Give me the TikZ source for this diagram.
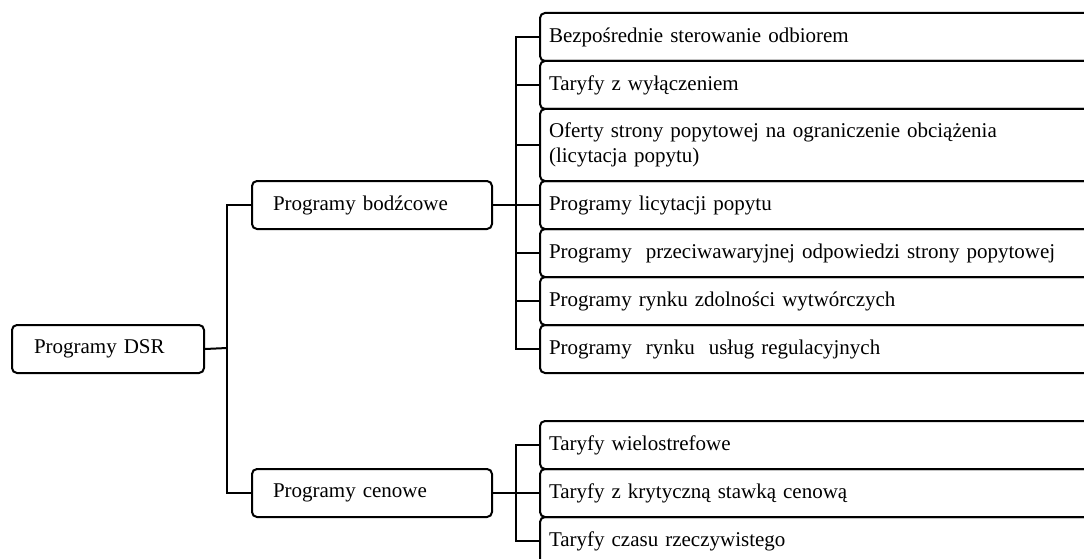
\documentclass[tikz,border=0pt]{standalone}
\usepackage{fontspec}
\setmainfont{Liberation Serif}
\begin{document}
\begin{tikzpicture}[x=1pt,y=-1pt,
  box/.style={draw, line width=2pt, rounded corners=5pt, anchor=north west,
    align=left, font=\fontsize{21}{25}\selectfont, inner ysep=0pt},
  leftbox/.style={box, text width=148pt, inner xsep=22pt, minimum height=48pt},
  midbox/.style={box, text width=198pt, inner xsep=21pt, minimum height=48pt},
  rbox/.style={box, text width=542pt, inner xsep=9pt, minimum height=48pt},
  conn/.style={line width=2pt, line join=miter}]
\useasboundingbox (0,0) rectangle (1084,559);
\clip (0,0) rectangle (1084,559);
\node[leftbox] (dsr) at (11,324) {Programy DSR};
\node[midbox] (bod) at (251,180) {Programy bodźcowe};
\node[midbox] (cen) at (251,468) {Programy cenowe};
\node[rbox] (r1) at (539,12) {Bezpośrednie sterowanie odbiorem};
\node[rbox] (r2) at (539,60) {Taryfy z wyłączeniem};
\node[rbox, minimum height=72pt] (r3) at (539,108) {Oferty strony popytowej na ograniczenie obciążenia\\(licytacja popytu)};
\node[rbox] (r4) at (539,180) {Programy licytacji popytu};
\node[rbox] (r5) at (539,228) {Programy\ \ przeciwawaryjnej odpowiedzi strony popytowej};
\node[rbox] (r6) at (539,276) {Programy rynku zdolności wytwórczych};
\node[rbox] (r7) at (539,324) {Programy\ \ rynku\ \ usług regulacyjnych};
\node[rbox] (c1) at (539,420) {Taryfy wielostrefowe};
\node[rbox] (c2) at (539,468) {Taryfy z krytyczną stawką cenową};
\node[rbox] (c3) at (539,516) {Taryfy czasu rzeczywistego};
\coordinate (j1) at (227,348);
\coordinate (j2) at (516,0);
\draw[conn] (dsr.east) -- (j1);
\draw[conn] (bod.west) -- (bod.west -| j1) -- (cen.west -| j1) -- (cen.west);
\draw[conn] (bod.east) -- (r4.west);
\draw[conn] (r1.west) -- (r1.west -| j2) -- (r7.west -| j2) -- (r7.west);
\foreach \n in {r2,r3,r5,r6} \draw[conn] (\n.west -| j2) -- (\n.west);
\draw[conn] (cen.east) -- (c2.west);
\draw[conn] (c1.west) -- (c1.west -| j2) -- (c3.west -| j2) -- (c3.west);
\end{tikzpicture}
\end{document}
